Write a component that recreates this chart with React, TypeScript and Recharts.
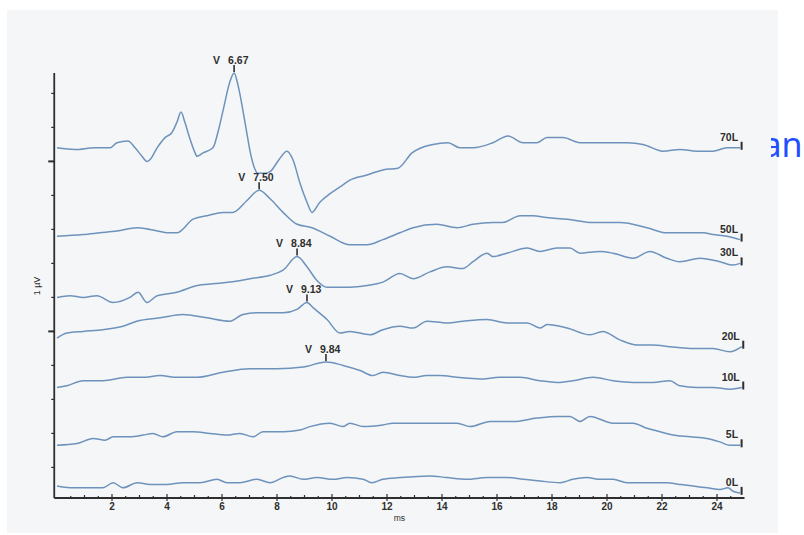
import React from 'react';
import { LineChart, Line, XAxis, YAxis } from 'recharts';

const levels = ['70L', '50L', '30L', '20L', '10L', '5L', '0L'];

// [ms, µV] pairs; each trace keeps its stacking offset
const trace70L: [number, number][] = [
  [0, 2.06], [0.65, 2.05], [1.38, 2.06], [1.93, 2.06], [2.18, 2.09], [2.58, 2.1], [2.84, 2.06],
  [3.09, 2.01], [3.27, 1.98], [3.38, 1.99], [3.64, 2.06], [3.93, 2.12], [4.18, 2.15], [4.36, 2.21],
  [4.51, 2.27], [4.65, 2.21], [4.84, 2.11], [5.02, 2.03], [5.09, 2.01], [5.31, 2.03], [5.67, 2.06],
  [5.85, 2.15], [6.04, 2.28], [6.29, 2.45], [6.44, 2.5], [6.58, 2.43], [6.76, 2.28], [6.91, 2.14],
  [7.02, 2.04], [7.16, 1.95], [7.31, 1.91], [7.56, 1.91], [7.75, 1.92], [8.07, 1.99], [8.36, 2.04],
  [8.58, 1.99], [8.84, 1.85], [9.09, 1.74], [9.27, 1.68], [9.56, 1.74], [9.93, 1.79], [10.29, 1.83],
  [10.65, 1.87], [11.27, 1.9], [11.85, 1.93], [12.4, 1.94], [12.91, 2.03], [13.67, 2.08], [14.22, 2.09],
  [14.65, 2.06], [15.13, 2.06], [15.85, 2.09], [16.4, 2.13], [16.95, 2.09], [17.45, 2.09], [17.82, 2.12],
  [18.4, 2.12], [19.02, 2.09], [19.64, 2.09], [20.73, 2.09], [21.31, 2.08], [22.04, 2.04], [22.65, 2.05],
  [23.27, 2.04], [23.85, 2.04], [24.36, 2.06], [24.84, 2.06],
];

const trace50L: [number, number][] = [
  [0, 1.54], [0.95, 1.55], [1.56, 1.56], [2.18, 1.57], [2.91, 1.59], [3.38, 1.58], [4.11, 1.56],
  [4.36, 1.56], [4.95, 1.64], [5.45, 1.66], [6.04, 1.68], [6.4, 1.68], [6.91, 1.75], [7.35, 1.81],
  [7.75, 1.76], [8.22, 1.68], [8.73, 1.61], [9.27, 1.59], [9.93, 1.54], [10.65, 1.49], [11.27, 1.49],
  [11.85, 1.52], [12.47, 1.56], [12.95, 1.59], [13.8, 1.61], [14.55, 1.59], [15.13, 1.61], [15.85, 1.62],
  [16.2, 1.62], [16.84, 1.66], [17.3, 1.66], [17.8, 1.65], [18.55, 1.64], [19.5, 1.62], [20.47, 1.62],
  [21.45, 1.59], [22.18, 1.56], [22.9, 1.56], [23.5, 1.56], [23.85, 1.55], [24.36, 1.54], [24.84, 1.52],
];

const trace30L: [number, number][] = [
  [0, 1.18], [0.47, 1.19], [0.95, 1.18], [1.45, 1.19], [2.04, 1.15], [2.65, 1.18], [2.95, 1.21],
  [3.27, 1.15], [3.64, 1.19], [4.36, 1.21], [5.1, 1.25], [5.67, 1.26], [6.3, 1.27], [7.02, 1.29],
  [7.75, 1.31], [8.22, 1.34], [8.73, 1.42], [9.09, 1.36], [9.45, 1.28], [9.82, 1.24], [10.65, 1.24],
  [11.27, 1.25], [11.85, 1.27], [12.47, 1.32], [12.95, 1.29], [13.56, 1.33], [14.18, 1.36], [14.76, 1.35],
  [15.13, 1.39], [15.64, 1.44], [15.85, 1.42], [16.36, 1.44], [17.1, 1.47], [17.56, 1.45], [18.18, 1.47],
  [18.65, 1.47], [19.02, 1.44], [19.75, 1.45], [20.22, 1.44], [20.95, 1.41], [21.56, 1.45], [22.18, 1.41],
  [22.65, 1.39], [23.38, 1.41], [24.1, 1.39], [24.58, 1.37], [24.84, 1.38],
];

const trace20L: [number, number][] = [
  [0, 0.94], [0.36, 0.97], [0.95, 0.98], [1.67, 0.99], [2.4, 1.01], [2.9, 1.04], [3.75, 1.06],
  [4.58, 1.08], [5.45, 1.06], [6.29, 1.04], [6.76, 1.08], [7.27, 1.09], [8.22, 1.09], [8.73, 1.11],
  [9.09, 1.15], [9.31, 1.12], [9.82, 1.05], [10.29, 0.97], [10.65, 0.98], [11.38, 0.96], [11.85, 0.99],
  [12.47, 1.01], [12.95, 1.0], [13.45, 1.04], [14.18, 1.03], [14.76, 1.04], [15.64, 1.05], [16.36, 1.03],
  [17.1, 1.03], [17.56, 1.0], [17.82, 1.02], [18.55, 1.0], [19.38, 0.96], [19.85, 0.98], [20.47, 0.93],
  [21.1, 0.9], [21.67, 0.9], [22.29, 0.89], [23.02, 0.88], [23.85, 0.88], [24.47, 0.86], [24.9, 0.89],
];

const trace10L: [number, number][] = [
  [0, 0.65], [0.36, 0.66], [0.95, 0.69], [1.67, 0.69], [2.55, 0.71], [3.13, 0.71], [3.75, 0.72],
  [4.36, 0.71], [5.09, 0.71], [6.04, 0.74], [7.02, 0.76], [8.0, 0.76], [8.95, 0.77], [9.78, 0.8],
  [10.4, 0.78], [11.02, 0.75], [11.49, 0.72], [11.85, 0.74], [12.47, 0.72], [12.95, 0.71], [13.45, 0.72],
  [13.93, 0.72], [14.55, 0.71], [15.38, 0.7], [16.1, 0.71], [16.84, 0.71], [17.56, 0.69], [18.18, 0.68],
  [18.76, 0.69], [19.49, 0.71], [20.22, 0.69], [20.95, 0.68], [21.67, 0.68], [22.29, 0.69], [22.65, 0.66],
  [23.27, 0.65], [23.85, 0.65], [24.47, 0.64], [24.9, 0.65],
];

const trace5L: [number, number][] = [
  [0, 0.31], [0.73, 0.32], [1.31, 0.35], [1.75, 0.34], [2.04, 0.36], [2.65, 0.36], [3.13, 0.37],
  [3.49, 0.38], [3.85, 0.36], [4.36, 0.39], [4.95, 0.39], [5.56, 0.38], [6.18, 0.37], [6.65, 0.38],
  [7.13, 0.36], [7.49, 0.39], [8.22, 0.39], [8.84, 0.4], [9.2, 0.42], [9.93, 0.44], [10.4, 0.42],
  [10.65, 0.44], [11.13, 0.42], [11.85, 0.43], [12.22, 0.44], [12.95, 0.44], [13.67, 0.44], [14.55, 0.44],
  [15.02, 0.42], [15.75, 0.45], [16.58, 0.45], [17.45, 0.47], [18.18, 0.48], [18.65, 0.48], [19.02, 0.45],
  [19.38, 0.48], [20.22, 0.44], [20.95, 0.44], [21.45, 0.41], [21.93, 0.39], [22.4, 0.37], [23.02, 0.36],
  [23.64, 0.35], [24.1, 0.33], [24.47, 0.31], [24.84, 0.31],
];

const trace0L: [number, number][] = [
  [0, 0.07], [0.47, 0.06], [0.95, 0.06], [1.31, 0.06], [1.67, 0.06], [2.04, 0.09], [2.4, 0.06],
  [2.91, 0.09], [3.38, 0.08], [4.0, 0.08], [4.58, 0.09], [5.2, 0.09], [5.82, 0.11], [6.18, 0.09],
  [6.65, 0.09], [7.27, 0.11], [7.75, 0.09], [8.22, 0.12], [8.47, 0.13], [8.95, 0.11], [9.45, 0.12],
  [10.04, 0.11], [10.55, 0.12], [11.13, 0.11], [11.45, 0.09], [11.85, 0.11], [12.47, 0.12], [13.56, 0.13],
  [14.18, 0.12], [14.91, 0.11], [15.64, 0.12], [16.36, 0.12], [16.95, 0.11], [17.56, 0.1], [18.29, 0.09],
  [18.76, 0.11], [19.27, 0.12], [19.75, 0.11], [20.22, 0.11], [20.73, 0.09], [21.67, 0.09], [22.18, 0.09],
  [22.65, 0.08], [23.13, 0.07], [23.64, 0.06], [24.11, 0.05], [24.4, 0.06], [24.58, 0.04], [24.84, 0.03],
];

const traces = [trace70L, trace50L, trace30L, trace20L, trace10L, trace5L, trace0L];

// wave V marks (70L..10L): time of the marked point and printed latency
const waveVTime = [6.44, 7.35, 8.73, 9.09, 9.78];
const waveVLatency = ['6.67', '7.50', '8.84', '9.13', '9.84'];

const xTickLabels = [2, 4, 6, 8, 10, 12, 14, 16, 18, 20, 22, 24];
const xTicks = Array.from({ length: 49 }, (_, i) => (i + 1) * 0.5);
const yTicks = [0.18, 0.38, 0.58, 0.78, 0.98, 1.18, 1.38, 1.58, 1.78, 1.98, 2.18, 2.38];
const yMajorTicks = [0.98, 1.98];

const FONT = '"Liberation Sans", Arial, sans-serif';
const INK = '#2e2e2e';
const TRACE = '#6d92bc';

const renderXTick = (props: any) => {
  const { x, y, payload } = props;
  const v = payload.value;
  const major = xTickLabels.includes(v);
  return (
    <g key={`xt-${v}`}>
      <line x1={x} x2={x} y1={y - (major ? 4 : v % 1 === 0 ? 3 : 2)} y2={y + (major ? 3 : 0)} stroke={INK} strokeWidth={1.2} />
      {major && (
        <text x={x} y={y + 12} textAnchor="middle" fontSize={10} fontWeight={600} fill={INK} fontFamily={FONT}>
          {v}
        </text>
      )}
    </g>
  );
};

const renderYTick = (props: any) => {
  const { x, y, payload } = props;
  const major = yMajorTicks.includes(payload.value);
  return (
    <line key={`yt-${payload.value}`} x1={x} x2={x - (major ? 6 : 3)} y1={y} y2={y} stroke={INK} strokeWidth={major ? 2 : 1.2} />
  );
};

const makeDot = (idx: number) => (props: any) => {
  const { cx, cy, index, payload } = props;
  const key = `d-${idx}-${index}`;
  if (index === traces[idx].length - 1) {
    return (
      <g key={key}>
        <line x1={cx + 1.5} x2={cx + 1.5} y1={cy - 6} y2={cy + 2} stroke={INK} strokeWidth={2} />
        <text x={cx - 2} y={cy - 7} textAnchor="end" fontSize={10.5} fontWeight={600} fill={INK} fontFamily={FONT}>
          {levels[idx]}
        </text>
      </g>
    );
  }
  if (idx < waveVTime.length && payload.t === waveVTime[idx]) {
    return (
      <g key={key}>
        <line x1={cx} x2={cx} y1={cy - 8} y2={cy - 1} stroke={INK} strokeWidth={1.6} />
        <text x={cx - 21} y={cy - 9.5} fontSize={10.5} fontWeight={600} fill={INK} fontFamily={FONT}>V</text>
        <text x={cx - 6} y={cy - 9.5} fontSize={10.5} fontWeight={600} fill={INK} fontFamily={FONT}>{waveVLatency[idx]}</text>
      </g>
    );
  }
  return <g key={key} />;
};

export default function App() {
  return (
    <div style={{ position: 'absolute', left: 0, top: 0, width: 804, height: 535, background: '#fff', overflow: 'hidden' }}>
      <div style={{ position: 'absolute', left: 7, top: 10, width: 771, height: 523, background: '#f5f6f7' }} />
      <div style={{ position: 'absolute', left: 0, top: 0 }}>
        <LineChart width={804} height={535} margin={{ top: 73, right: 59.5, left: 34.25, bottom: 0 }}>
          <XAxis
            type="number"
            dataKey="t"
            domain={[-0.1, 25]}
            ticks={xTicks}
            interval={0}
            height={37}
            tickSize={0}
            tickMargin={0}
            tickLine={false}
            axisLine={{ stroke: INK, strokeWidth: 1.8 }}
            tick={renderXTick}
            label={{
              content: ({ viewBox }: any) => (
                <text x={viewBox.x + viewBox.width / 2} y={521} textAnchor="middle" fontSize={8.5} fill={INK} fontFamily={FONT}>
                  ms
                </text>
              ),
            }}
          />
          <YAxis
            type="number"
            dataKey="v"
            domain={[0, 2.5]}
            ticks={yTicks}
            interval={0}
            width={20}
            tickSize={0}
            tickMargin={0}
            tickLine={false}
            axisLine={{ stroke: INK, strokeWidth: 1.8 }}
            tick={renderYTick}
            label={{
              content: ({ viewBox }: any) => (
                <text
                  x={viewBox.x + 5.5}
                  y={viewBox.y + 213}
                  transform={`rotate(-90 ${viewBox.x + 5.5} ${viewBox.y + 213})`}
                  textAnchor="middle"
                  fontSize={9}
                  fill={INK}
                  fontFamily={FONT}
                >
                  1 µV
                </text>
              ),
            }}
          />
          {traces.map((tr, i) => (
            <Line
              key={levels[i]}
              data={tr.map(([t, v]) => ({ t, v }))}
              dataKey="v"
              type="monotone"
              stroke={TRACE}
              strokeWidth={1.5}
              strokeLinejoin="round"
              dot={makeDot(i)}
              activeDot={false}
              isAnimationActive={false}
            />
          ))}
        </LineChart>
      </div>
      <svg width={804} height={535} style={{ position: 'absolute', left: 0, top: 0, pointerEvents: 'none' }}>
        <defs>
          <clipPath id="cut">
            <rect x={771} y={115} width={33} height={55} />
          </clipPath>
        </defs>
        <text x={802.5} y={157} textAnchor="end" fontSize={34} fill="#1f4fff" fontFamily='"Noto Sans", sans-serif' clipPath="url(#cut)">
          an
        </text>
      </svg>
    </div>
  );
}
